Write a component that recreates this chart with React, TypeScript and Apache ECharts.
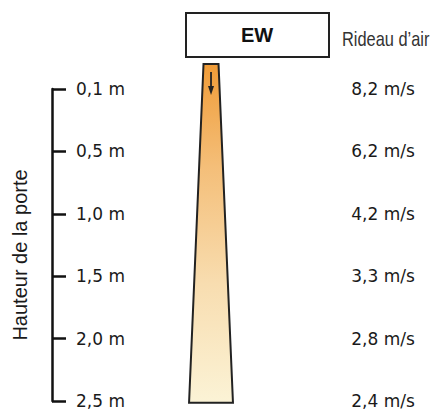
import React, { useEffect, useRef } from "react";
import * as echarts from "echarts";

const heights = ["0,1 m", "0,5 m", "1,0 m", "1,5 m", "2,0 m", "2,5 m"];
const speeds = ["8,2 m/s", "6,2 m/s", "4,2 m/s", "3,3 m/s", "2,8 m/s", "2,4 m/s"];
const axisName = "Hauteur de la porte";
const deviceName = "EW";
const deviceLabel = "Rideau d\u2019air";
// cone: [center x, top y, bottom y, top half width, bottom half width] in axis units
const cone = [[57.2, -0.4, 5.03, 2.7, 7.9]];

export default function App() {
  const ref = useRef<HTMLDivElement>(null);
  useEffect(() => {
    if (!ref.current) return;
    const chart = echarts.init(ref.current, null, { renderer: "svg" });
    const labelFont = "'DejaVu Sans', sans-serif";
    chart.setOption({
      animation: false,
      backgroundColor: "#ffffff",
      grid: { left: 52, right: 109, top: 89, bottom: 13 },
      xAxis: { type: "value", min: 0, max: 100, show: false },
      yAxis: [
        {
          type: "value",
          inverse: true,
          min: 0,
          max: 5,
          interval: 1,
          position: "left",
          name: axisName,
          nameLocation: "middle",
          nameRotate: 90,
          nameGap: 22,
          nameTextStyle: {
            fontFamily: "'Liberation Sans', Arial, sans-serif",
            fontSize: 20,
            color: "#1a1a1a",
            padding: [0, 20, 0, 0],
          },
          axisLine: { show: true, lineStyle: { color: "#111", width: 2.5 } },
          axisTick: { show: true, inside: true, length: 14, lineStyle: { color: "#111", width: 2.5 } },
          splitLine: { show: false },
          axisLabel: {
            inside: true,
            margin: 24,
            showMinLabel: true,
            showMaxLabel: true,
            fontFamily: labelFont,
            fontSize: 17,
            color: "#1a1a1a",
            formatter: (v: number) => heights[Math.round(v)] ?? "",
          },
        },
        {
          type: "value",
          inverse: true,
          min: 0,
          max: 5,
          interval: 1,
          position: "right",
          axisLine: { show: false },
          axisTick: { show: false },
          splitLine: { show: false },
          axisLabel: {
            margin: 53,
            align: "center",
            showMinLabel: true,
            showMaxLabel: true,
            fontFamily: labelFont,
            fontSize: 17,
            color: "#1a1a1a",
            formatter: (v: number) => speeds[Math.round(v)] ?? "",
          },
        },
      ],
      graphic: [
        {
          type: "rect",
          shape: { x: 186, y: 13, width: 143, height: 44 },
          style: { fill: "#fff", stroke: "#222", lineWidth: 2 },
        },
        {
          type: "text",
          x: 257,
          y: 35,
          style: {
            text: deviceName,
            font: "bold 20px 'Liberation Sans', Arial, sans-serif",
            fill: "#111",
            align: "center",
            verticalAlign: "middle",
          },
        },
        {
          type: "text",
          x: 342,
          y: 39,
          scaleX: 0.82,
          style: {
            text: deviceLabel,
            font: "20px 'Liberation Sans', Arial, sans-serif",
            fill: "#333",
            align: "left",
            verticalAlign: "middle",
          },
        },
      ],
      series: [
        {
          type: "custom",
          clip: false,
          silent: true,
          data: cone,
          renderItem: (params: any, api: any) => {
            const cx = api.value(0);
            const ty = api.value(1);
            const by = api.value(2);
            const thw = api.value(3);
            const bhw = api.value(4);
            const tl = api.coord([cx - thw, ty]);
            const tr = api.coord([cx + thw, ty]);
            const bl = api.coord([cx - bhw, by]);
            const br = api.coord([cx + bhw, by]);
            const ax = (tl[0] + tr[0]) / 2;
            const top = tl[1];
            return {
              type: "group",
              children: [
                {
                  type: "polygon",
                  shape: { points: [tl, tr, br, bl] },
                  style: {
                    fill: new echarts.graphic.LinearGradient(0, 0, 0, 1, [
                      { offset: 0, color: "#F09C38" },
                      { offset: 0.3, color: "#F4BE78" },
                      { offset: 0.65, color: "#F8DDB0" },
                      { offset: 1, color: "#FBF3D6" },
                    ]),
                    stroke: "#222",
                    lineWidth: 2,
                  },
                },
                {
                  type: "line",
                  shape: { x1: ax, y1: top + 8, x2: ax, y2: top + 24 },
                  style: { stroke: "#222", lineWidth: 1.8 },
                },
                {
                  type: "polygon",
                  shape: { points: [[ax - 3, top + 22], [ax + 3, top + 22], [ax, top + 31]] },
                  style: { fill: "#222" },
                },
              ],
            };
          },
        },
      ],
    });
    return () => chart.dispose();
  }, []);
  return (
    <div
      ref={ref}
      style={{ position: "fixed", left: 0, top: 0, width: 439, height: 414 }}
    />
  );
}
